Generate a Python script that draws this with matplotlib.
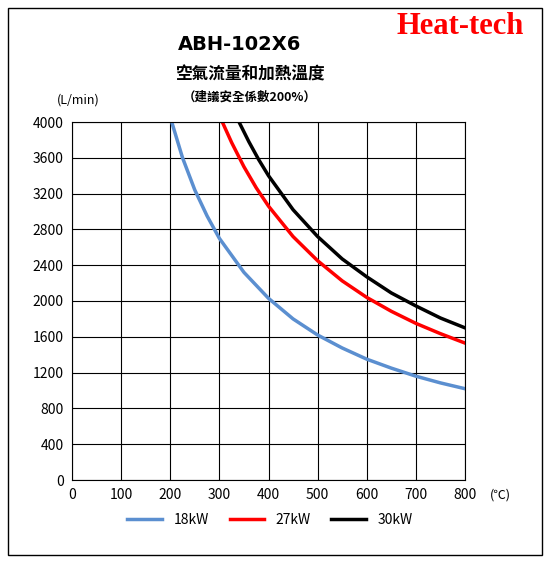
import matplotlib
matplotlib.use("Agg")
import matplotlib.pyplot as plt

plt.rcParams['font.family'] = ['Noto Sans CJK TC', 'DejaVu Sans']

t18 = [203, 225, 250, 275, 300, 350, 400, 450, 500, 550, 600, 650, 700, 750, 800]
v18 = [4000, 3600, 3240, 2950, 2700, 2320, 2030, 1800, 1620, 1475, 1350, 1250, 1160, 1085, 1020]
t27 = [306, 325, 350, 375, 400, 450, 500, 550, 600, 650, 700, 750, 800]
v27 = [4000, 3770, 3500, 3265, 3060, 2720, 2450, 2225, 2040, 1885, 1750, 1635, 1530]
t30 = [340, 360, 380, 400, 450, 500, 550, 600, 650, 700, 750, 800]
v30 = [4000, 3780, 3580, 3400, 3020, 2720, 2470, 2270, 2090, 1945, 1810, 1700]
xticks = list(range(0, 801, 100))
yticks = list(range(0, 4001, 400))

fig = plt.figure(figsize=(5.5, 5.63), dpi=100)
ax = fig.add_axes([72/550, 1-480/563, 393/550, 358/563])
ax.plot(t18, v18, color='#5b8fd0', lw=2.5, label='18kW')
ax.plot(t27, v27, color='#ff0000', lw=2.5, label='27kW')
ax.plot(t30, v30, color='#000000', lw=2.5, label='30kW')
ax.set_xlim(0, 800); ax.set_ylim(0, 4000)
ax.set_xticks(xticks); ax.set_yticks(yticks)
ax.grid(True, color='black', lw=0.8)
for s in ax.spines.values(): s.set_color('black')
ax.tick_params(length=0, labelsize=10, pad=6)
fig.text(100/550, 1-100/563, '(L/min)', fontsize=9, ha='right', va='center')
fig.text(490/550, 1-495/563, '(℃)', fontsize=9, ha='left', va='center')
fig.text(240/550, 1-45/563, 'ABH-102X6', fontsize=14, weight='bold', ha='center', va='center', family=['DejaVu Sans'])
fig.text(250/550, 1-75/563, '空氣流量和加熱溫度', fontsize=12, weight='bold', ha='center', va='center')
fig.text(250/550, 1-97/563, '（建議安全係數200%）', fontsize=9, weight='bold', ha='center', va='center')
fig.text(460/550, 1-27/563, 'Heat-tech', fontsize=22, weight='bold', color='#ff0000', ha='center', va='center', family=['Liberation Serif'])
fig.legend(loc='center', bbox_to_anchor=(270/550, 1-520/563), ncol=3, frameon=False, fontsize=10, handlelength=2.5, columnspacing=1.5)
fig.add_artist(plt.Rectangle((8/550, 8/563), 534/550, 547/563, fill=False, ec='black', lw=1, transform=fig.transFigure))
fig.savefig('out.png', dpi=100)
